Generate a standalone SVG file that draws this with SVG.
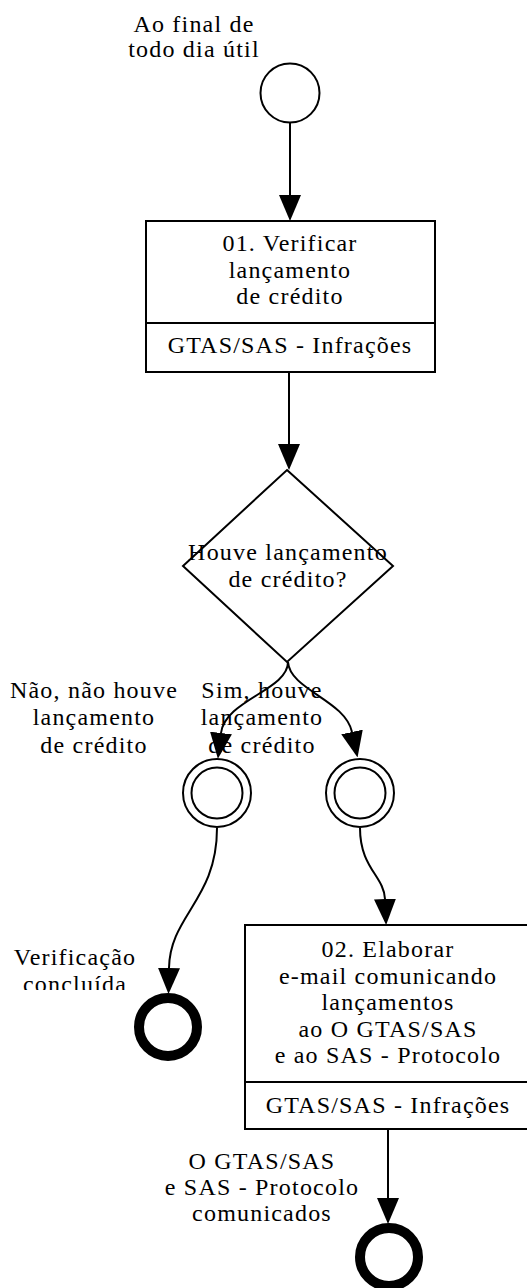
<svg xmlns="http://www.w3.org/2000/svg" width="527" height="1288" viewBox="0 0 527 1288">
  <style>
    text { font-family: "Liberation Serif", "Times New Roman", serif; font-size: 24px; letter-spacing: 1.2px; fill: #000; text-anchor: middle; }
    .shape { fill: #fff; stroke: #000; stroke-width: 2; }
    .edge { fill: none; stroke: #000; stroke-width: 2; marker-end: url(#arrow); }
    .end { fill: none; stroke: #000; stroke-width: 10; }
  </style>
  <defs>
    <marker id="arrow" viewBox="0 0 26 22" refX="0" refY="11" markerWidth="26" markerHeight="22" markerUnits="userSpaceOnUse" orient="auto">
      <path d="M0,0 L26,11 L0,22 z" fill="#000"/>
    </marker>
    <clipPath id="clipConcl">
      <rect x="0" y="960" width="160" height="30"/>
    </clipPath>
  </defs>

  <g id="connectors">
    <path class="edge" d="M290,123 L290,195"/>
    <path class="edge" d="M289,372 L289,444"/>
    <path class="edge" d="M288,662 C288,690 225,700 221,733"/>
    <path class="edge" d="M288,662 C290,690 345,700 352,732"/>
    <path class="edge" d="M217,828 C217,900 170,915 169,968"/>
    <path class="edge" d="M360,828 C360,868 384,876 385,899"/>
    <path class="edge" d="M388,1129 L388,1198"/>
    <text x="94" y="698">Não, não houve</text>
    <text x="94" y="725">lançamento</text>
    <text x="94" y="753">de crédito</text>
    <text x="262" y="698">Sim, houve</text>
    <text x="262" y="725">lançamento</text>
    <text x="262" y="753">de crédito</text>
  </g>

  <g id="start">
    <text x="194" y="32">Ao final de</text>
    <text x="194" y="57">todo dia útil</text>
    <circle class="shape" cx="290" cy="93" r="29.5"/>
  </g>

  <g id="task01">
    <rect class="shape" x="146" y="221" width="289" height="151"/>
    <line x1="146" y1="323" x2="435" y2="323" stroke="#000" stroke-width="2"/>
    <text x="290" y="251">01. Verificar</text>
    <text x="290" y="277.5">lançamento</text>
    <text x="290" y="304">de crédito</text>
    <text x="290" y="353">GTAS/SAS - Infrações</text>
  </g>

  <g id="gateway">
    <polygon class="shape" points="287,470 393,566 287,662 183,566"/>
    <text x="288" y="560">Houve lançamento</text>
    <text x="288" y="587">de crédito?</text>
  </g>

  <g id="intermediate-no">
    <circle class="shape" cx="217" cy="793" r="34"/>
    <circle class="shape" cx="217" cy="793" r="25.5"/>
  </g>

  <g id="intermediate-yes">
    <circle class="shape" cx="360" cy="793" r="34"/>
    <circle class="shape" cx="360" cy="793" r="25.5"/>
  </g>

  <g id="end-verificacao">
    <text x="75" y="965">Verificação</text>
    <text x="75" y="992" clip-path="url(#clipConcl)">concluída</text>
    <circle class="end" cx="168" cy="1027" r="29"/>
  </g>

  <g id="task02">
    <rect class="shape" x="245" y="925" width="286" height="204"/>
    <line x1="245" y1="1082" x2="531" y2="1082" stroke="#000" stroke-width="2"/>
    <text x="388" y="957">02. Elaborar</text>
    <text x="388" y="983.5">e-mail comunicando</text>
    <text x="388" y="1010">lançamentos</text>
    <text x="388" y="1036.5">ao O GTAS/SAS</text>
    <text x="388" y="1063">e ao SAS - Protocolo</text>
    <text x="388" y="1113">GTAS/SAS - Infrações</text>
  </g>

  <g id="end-comunicados">
    <text x="262" y="1169">O GTAS/SAS</text>
    <text x="262" y="1195">e SAS - Protocolo</text>
    <text x="262" y="1221">comunicados</text>
    <circle class="end" cx="389" cy="1257" r="29"/>
  </g>
</svg>
